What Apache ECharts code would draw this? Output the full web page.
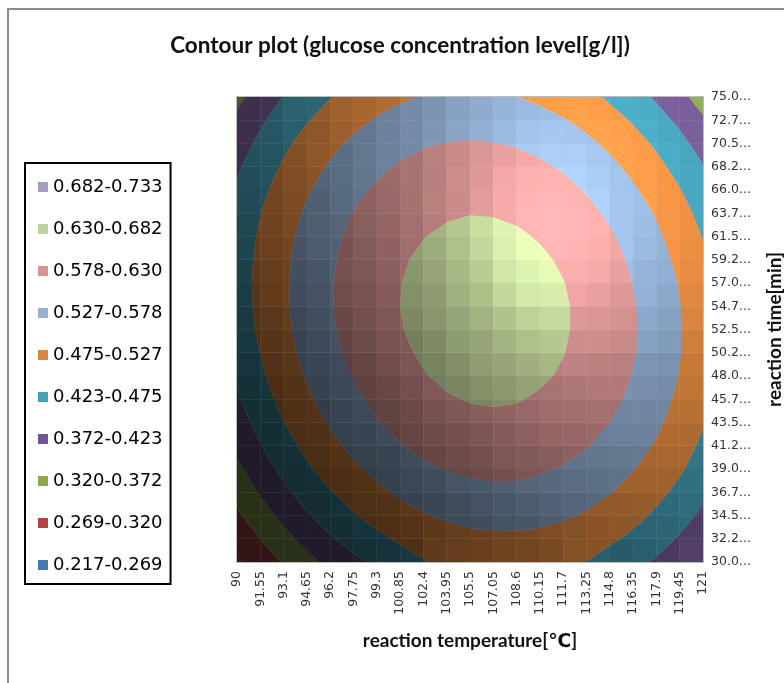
<!DOCTYPE html>
<html>
<head>
<meta charset="utf-8">
<script src="https://cdn.jsdelivr.net/npm/echarts@6/dist/echarts.min.js"></script>
<style>
  html, body { margin: 0; padding: 0; background: #fff; }
  #chart { width: 784px; height: 683px; }
</style>
</head>
<body>
<div id="chart"></div>
<script>
// Reaction temperature categories (columns of the grid)
const temperatures = ['90', '91.55', '93.1', '94.65', '96.2', '97.75', '99.3', '100.85', '102.4', '103.95',
  '105.5', '107.05', '108.6', '110.15', '111.7', '113.25', '114.8', '116.35', '117.9', '119.45', '121'];

// Reaction time tick labels (rows of the grid, 30 → 75 min)
const timeLabels = ['30.0…', '32.2…', '34.5…', '36.7…', '39.0…', '41.2…', '43.5…', '45.7…', '48.0…', '50.2…',
  '52.5…', '54.7…', '57.0…', '59.2…', '61.5…', '63.7…', '66.0…', '68.2…', '70.5…', '72.7…', '75.0…'];

// Contour band edges [g/l]
const levels = [0.217, 0.269, 0.320, 0.372, 0.423, 0.475, 0.527, 0.578, 0.630, 0.682, 0.733];
const bandNames = ['0.217-0.269', '0.269-0.320', '0.320-0.372', '0.372-0.423', '0.423-0.475',
  '0.475-0.527', '0.527-0.578', '0.578-0.630', '0.630-0.682', '0.682-0.733'];
const bandColors = ['#4F81BD', '#C0504D', '#9BBB59', '#8064A2', '#4BACC6',
  '#F79646', '#95B3D7', '#D99694', '#C3D69B', '#B3A2C7'];
const legendColors = ['#4A78B0', '#B04444', '#8AAB48', '#6E5596', '#43A1B8',
  '#E0843C', '#98B0D8', '#D89494', '#BBD39A', '#A89BC3'];

// Glucose concentration [g/l]; glucose[j][i] = time row j, temperature column i
const glucose = [
  [0.263, 0.288, 0.324, 0.357, 0.386, 0.412, 0.434, 0.452, 0.472, 0.482, 0.488, 0.491, 0.491, 0.488, 0.482, 0.474, 0.455, 0.437, 0.417, 0.396, 0.377],
  [0.281, 0.321, 0.356, 0.389, 0.418, 0.443, 0.464, 0.482, 0.497, 0.508, 0.515, 0.518, 0.518, 0.515, 0.508, 0.497, 0.483, 0.465, 0.443, 0.418, 0.393],
  [0.311, 0.350, 0.386, 0.418, 0.446, 0.471, 0.492, 0.510, 0.524, 0.534, 0.541, 0.545, 0.544, 0.541, 0.533, 0.522, 0.507, 0.489, 0.467, 0.442, 0.413],
  [0.338, 0.377, 0.412, 0.444, 0.472, 0.496, 0.517, 0.535, 0.548, 0.559, 0.565, 0.568, 0.568, 0.563, 0.556, 0.544, 0.529, 0.511, 0.488, 0.463, 0.433],
  [0.362, 0.400, 0.435, 0.467, 0.495, 0.519, 0.539, 0.557, 0.570, 0.580, 0.586, 0.589, 0.588, 0.583, 0.575, 0.564, 0.548, 0.529, 0.507, 0.481, 0.451],
  [0.383, 0.421, 0.456, 0.487, 0.515, 0.538, 0.559, 0.576, 0.589, 0.598, 0.604, 0.607, 0.605, 0.601, 0.592, 0.580, 0.565, 0.545, 0.523, 0.496, 0.466],
  [0.401, 0.439, 0.474, 0.504, 0.532, 0.555, 0.575, 0.592, 0.605, 0.614, 0.620, 0.622, 0.620, 0.615, 0.606, 0.594, 0.578, 0.558, 0.535, 0.509, 0.478],
  [0.417, 0.454, 0.489, 0.519, 0.546, 0.569, 0.589, 0.605, 0.618, 0.627, 0.632, 0.634, 0.632, 0.626, 0.617, 0.605, 0.589, 0.569, 0.545, 0.518, 0.488],
  [0.429, 0.467, 0.501, 0.531, 0.557, 0.580, 0.600, 0.616, 0.628, 0.636, 0.642, 0.643, 0.641, 0.635, 0.626, 0.613, 0.596, 0.576, 0.552, 0.525, 0.494],
  [0.439, 0.476, 0.510, 0.540, 0.566, 0.589, 0.608, 0.623, 0.635, 0.644, 0.648, 0.649, 0.647, 0.641, 0.631, 0.618, 0.601, 0.581, 0.557, 0.529, 0.498],
  [0.446, 0.483, 0.516, 0.546, 0.572, 0.594, 0.613, 0.628, 0.640, 0.648, 0.652, 0.653, 0.650, 0.644, 0.634, 0.620, 0.603, 0.582, 0.558, 0.530, 0.499],
  [0.450, 0.487, 0.520, 0.549, 0.575, 0.597, 0.615, 0.630, 0.641, 0.649, 0.653, 0.654, 0.651, 0.644, 0.634, 0.620, 0.602, 0.581, 0.557, 0.528, 0.497],
  [0.452, 0.488, 0.520, 0.549, 0.575, 0.596, 0.615, 0.629, 0.640, 0.648, 0.651, 0.652, 0.648, 0.641, 0.631, 0.616, 0.599, 0.577, 0.552, 0.524, 0.492],
  [0.450, 0.486, 0.518, 0.547, 0.572, 0.593, 0.611, 0.626, 0.636, 0.643, 0.647, 0.647, 0.643, 0.636, 0.625, 0.610, 0.592, 0.571, 0.545, 0.516, 0.484],
  [0.446, 0.481, 0.513, 0.542, 0.566, 0.588, 0.605, 0.619, 0.629, 0.636, 0.639, 0.639, 0.635, 0.627, 0.616, 0.601, 0.583, 0.561, 0.535, 0.506, 0.473],
  [0.439, 0.474, 0.505, 0.533, 0.558, 0.579, 0.596, 0.610, 0.620, 0.626, 0.629, 0.628, 0.624, 0.616, 0.605, 0.589, 0.571, 0.548, 0.523, 0.493, 0.460],
  [0.429, 0.463, 0.495, 0.522, 0.547, 0.567, 0.584, 0.597, 0.607, 0.613, 0.616, 0.615, 0.610, 0.602, 0.590, 0.575, 0.556, 0.533, 0.507, 0.477, 0.444],
  [0.416, 0.450, 0.481, 0.509, 0.532, 0.553, 0.569, 0.582, 0.592, 0.598, 0.600, 0.599, 0.594, 0.585, 0.573, 0.557, 0.538, 0.515, 0.488, 0.458, 0.425],
  [0.400, 0.434, 0.465, 0.492, 0.515, 0.535, 0.552, 0.564, 0.574, 0.579, 0.581, 0.579, 0.574, 0.565, 0.553, 0.537, 0.517, 0.494, 0.467, 0.437, 0.403],
  [0.381, 0.415, 0.446, 0.472, 0.496, 0.515, 0.531, 0.544, 0.552, 0.558, 0.559, 0.557, 0.552, 0.543, 0.530, 0.514, 0.494, 0.470, 0.443, 0.412, 0.378],
  [0.360, 0.394, 0.424, 0.450, 0.473, 0.492, 0.508, 0.520, 0.529, 0.534, 0.535, 0.533, 0.527, 0.517, 0.504, 0.488, 0.467, 0.443, 0.416, 0.385, 0.350]
];

const nameFont = 'Lato, "DejaVu Sans", sans-serif';
const tickFont = '"DejaVu Sans", Verdana, sans-serif';

// one entry per grid cell: [column, row]
const cells = [];
for (let j = 0; j < timeLabels.length - 1; j++) {
  for (let i = 0; i < temperatures.length - 1; i++) cells.push([i, j]);
}

function hexToRgb(h) {
  return [parseInt(h.slice(1, 3), 16), parseInt(h.slice(3, 5), 16), parseInt(h.slice(5, 7), 16)];
}
function shade(hex, k) {
  const c = hexToRgb(hex).map(v => Math.max(0, Math.min(255, Math.round(v * k))));
  return 'rgb(' + c.join(',') + ')';
}

// keep the part of a polygon (points [u, v, z], z interpolated along edges) above / below a level
function clipLevel(poly, t, keepAbove) {
  const out = [];
  for (let k = 0; k < poly.length; k++) {
    const a = poly[k], b = poly[(k + 1) % poly.length];
    const ina = keepAbove ? a[2] >= t : a[2] <= t;
    const inb = keepAbove ? b[2] >= t : b[2] <= t;
    if (ina) out.push(a);
    if (ina !== inb) {
      const f = (t - a[2]) / (b[2] - a[2]);
      out.push([a[0] + f * (b[0] - a[0]), a[1] + f * (b[1] - a[1]), t]);
    }
  }
  return out;
}

// facet brightness from the surface normal of a cell (light from the upper right)
const nCols = temperatures.length - 1, nRows = timeLabels.length - 1;
const light = [0.385, 0.385, 0.839];
function cellBrightness(z00, z10, z01, z11) {
  const gx = ((z10 - z00) + (z11 - z01)) / 2 * nCols;
  const gy = ((z01 - z00) + (z11 - z10)) / 2 * nRows;
  const kz = 2;
  const nx = -gx * kz, ny = -gy * kz, nz = 1;
  const len = Math.sqrt(nx * nx + ny * ny + nz * nz);
  const d = Math.max(0, (nx * light[0] + ny * light[1] + nz * light[2]) / len);
  return 0.26 + 0.65 * d + 0.33 * Math.pow(d, 9);
}

function renderCell(params, api) {
  const i = api.value(0), j = api.value(1);
  const p00 = api.coord([i, j]);
  const p10 = api.coord([i + 1, j]);
  const p01 = api.coord([i, j + 1]);
  const z00 = glucose[j][i], z10 = glucose[j][i + 1], z01 = glucose[j + 1][i], z11 = glucose[j + 1][i + 1];
  const bright = cellBrightness(z00, z10, z01, z11);
  const toPx = (q) => [p00[0] + q[0] * (p10[0] - p00[0]) + q[1] * (p01[0] - p00[0]),
                       p00[1] + q[0] * (p10[1] - p00[1]) + q[1] * (p01[1] - p00[1])];
  const quad = [[0, 0, z00], [1, 0, z10], [1, 1, z11], [0, 1, z01]];
  const children = [];
  for (let b = 0; b < bandColors.length; b++) {
    let poly = clipLevel(quad, levels[b], true);
    if (poly.length < 3) continue;
    poly = clipLevel(poly, levels[b + 1], false);
    if (poly.length < 3) continue;
    const col = shade(bandColors[b], bright);
    children.push({
      type: 'polygon',
      shape: { points: poly.map(toPx) },
      style: { fill: col, stroke: col, lineWidth: 0.5 }
    });
  }
  return { type: 'group', children: children };
}

const series = [{
  type: 'custom',
  name: 'glucose',
  coordinateSystem: 'cartesian2d',
  xAxisIndex: 0,
  yAxisIndex: 0,
  data: cells,
  renderItem: renderCell,
  silent: true,
  clip: true,
  z: 2
}];
// legend entries for the contour bands
bandNames.forEach((name, b) => {
  series.push({
    type: 'custom',
    name: name,
    coordinateSystem: 'cartesian2d',
    data: [],
    renderItem: () => null,
    itemStyle: { color: legendColors[b] }
  });
});

const chart = echarts.init(document.getElementById('chart'), null, { renderer: 'canvas' });
chart.setOption({
  animation: false,
  backgroundColor: '#ffffff',
  grid: { left: 237, right: 81, top: 97, bottom: 121, containLabel: false, outerBoundsMode: 'none' },
  xAxis: [{
    type: 'category',
    data: temperatures,
    boundaryGap: false,
    position: 'bottom',
    axisLine: { show: true, lineStyle: { color: '#a6a6a6', width: 1.5 } },
    axisTick: { show: false },
    splitLine: { show: false },
    axisLabel: { rotate: 90, interval: 0, margin: 9, color: '#333', fontFamily: tickFont, fontSize: 12.5 },
    name: 'reaction temperature[℃]',
    nameLocation: 'middle',
    nameGap: 69,
    nameTextStyle: { fontFamily: nameFont, fontWeight: 'bold', fontSize: 19, color: '#111' }
  }, {
    type: 'category',
    data: temperatures,
    boundaryGap: false,
    position: 'top',
    axisLine: { show: true, lineStyle: { color: '#a6a6a6', width: 1.5 } },
    axisTick: { show: false },
    axisLabel: { show: false },
    splitLine: { show: false }
  }],
  yAxis: [{
    type: 'category',
    data: timeLabels,
    boundaryGap: false,
    position: 'right',
    axisLine: { show: true, lineStyle: { color: '#a6a6a6', width: 1.5 } },
    axisTick: { show: false },
    splitLine: { show: false },
    axisLabel: { interval: 0, margin: 8, color: '#333', fontFamily: tickFont, fontSize: 12.5 },
    name: 'reaction time[min]',
    nameLocation: 'middle',
    nameRotate: 90,
    nameGap: 62,
    nameTextStyle: { fontFamily: nameFont, fontWeight: 'bold', fontSize: 19, color: '#111' }
  }, {
    type: 'category',
    data: timeLabels,
    boundaryGap: false,
    position: 'left',
    axisLine: { show: true, lineStyle: { color: '#a6a6a6', width: 1.5 } },
    axisTick: { show: false },
    axisLabel: { show: false },
    splitLine: { show: false }
  }],
  legend: {
    orient: 'vertical',
    left: 25,
    top: 163,
    padding: [15, 8, 10, 13],
    itemGap: 24,
    itemWidth: 10,
    itemHeight: 10,
    icon: 'rect',
    selectedMode: false,
    borderColor: '#000',
    borderWidth: 2,
    textStyle: { fontFamily: tickFont, fontSize: 18, color: '#000' },
    data: bandNames.slice().reverse()
  },
  graphic: [{
    type: 'rect',
    silent: true,
    shape: { x: 8, y: 9, width: 800, height: 700 },
    style: { fill: null, stroke: '#8c8c8c', lineWidth: 2 }
  }, {
    type: 'text',
    silent: true,
    x: 400,
    y: 46,
    style: {
      text: 'Contour plot (glucose concentration level[g/l])',
      fontFamily: nameFont, fontWeight: 'bold', fontSize: 22.5, fill: '#111',
      textAlign: 'center', textVerticalAlign: 'middle'
    }
  }],
  series: series
});
</script>
</body>
</html>
